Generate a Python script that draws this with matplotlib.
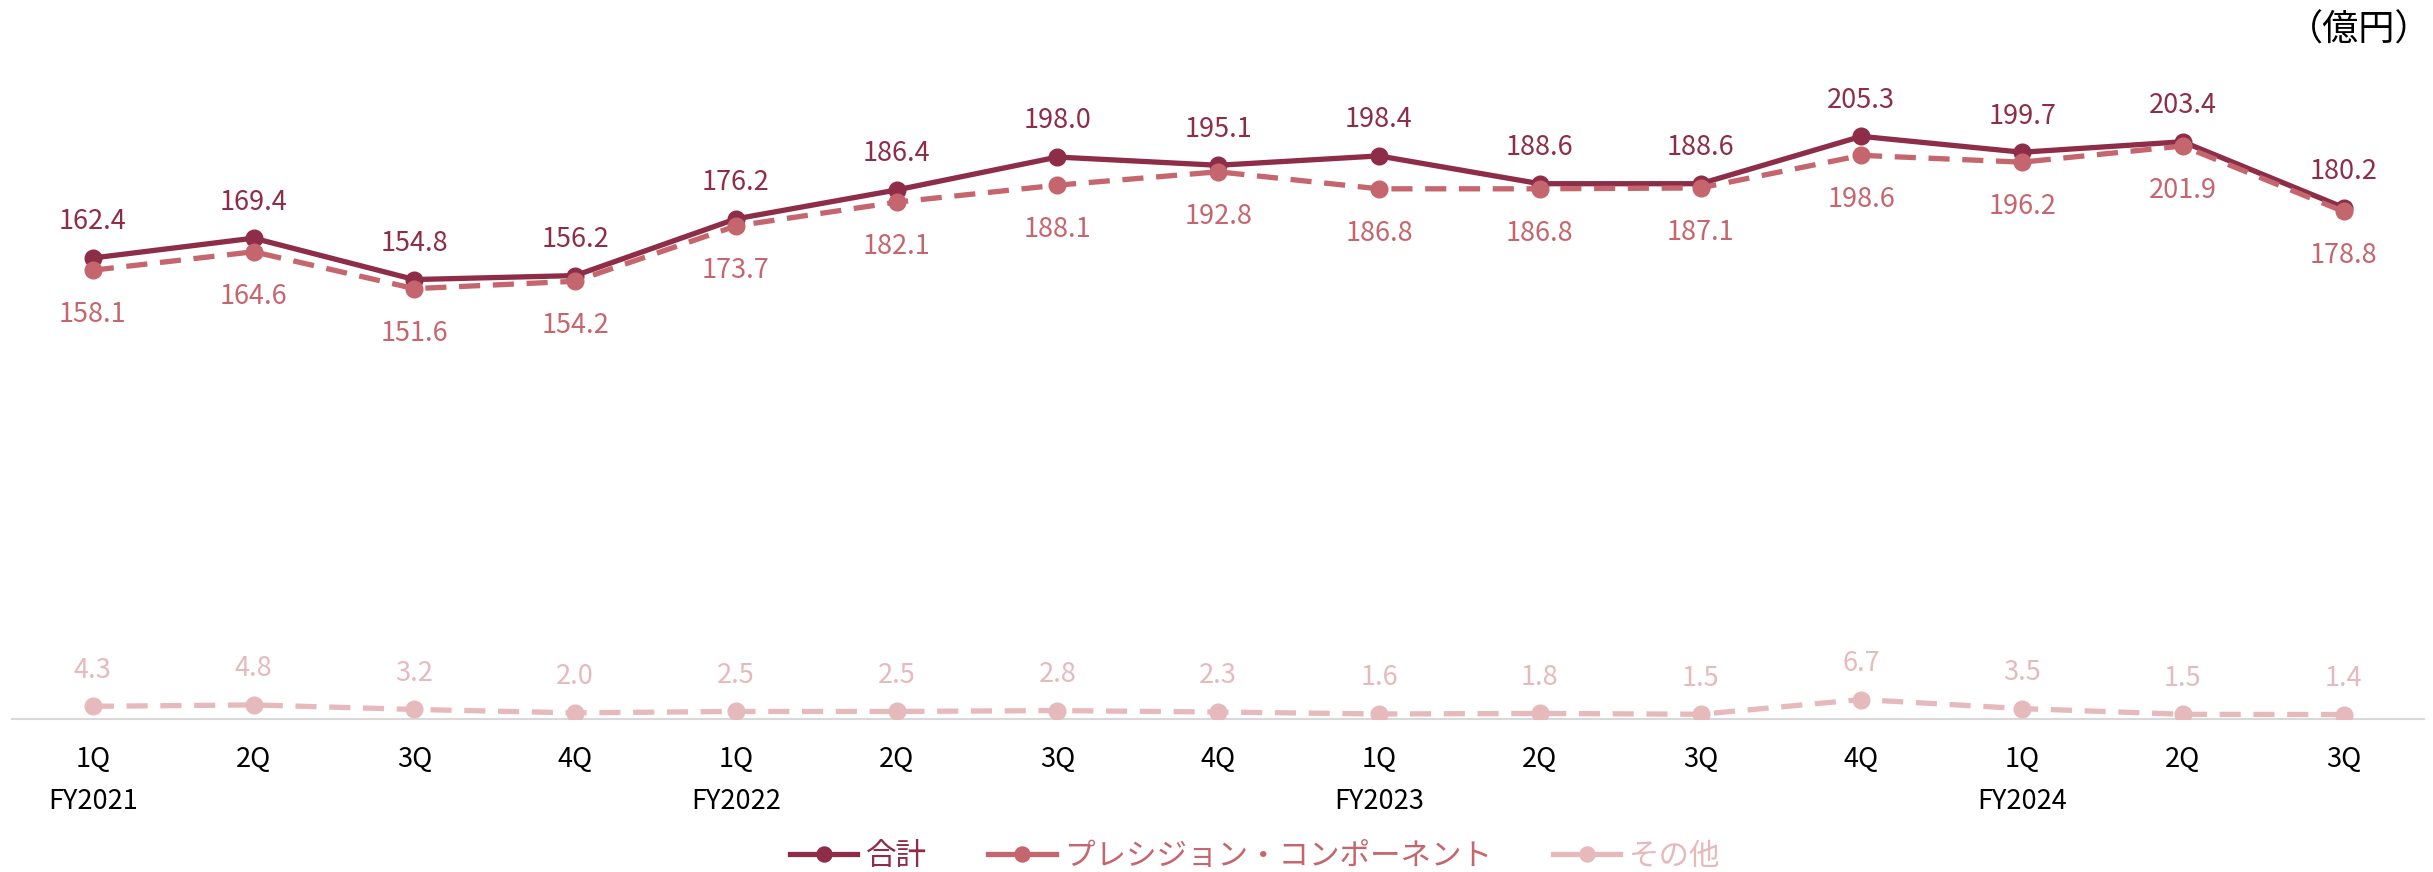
import matplotlib
matplotlib.use("Agg")
import matplotlib.pyplot as plt

plt.rcParams['font.family'] = ['Noto Sans CJK JP', 'DejaVu Sans']

quarters = ["1Q", "2Q", "3Q", "4Q"] * 3 + ["1Q", "2Q", "3Q"]
years = {0: "FY2021", 4: "FY2022", 8: "FY2023", 12: "FY2024"}
total = [162.4, 169.4, 154.8, 156.2, 176.2, 186.4, 198.0, 195.1, 198.4, 188.6, 188.6, 205.3, 199.7, 203.4, 180.2]
precision = [158.1, 164.6, 151.6, 154.2, 173.7, 182.1, 188.1, 192.8, 186.8, 186.8, 187.1, 198.6, 196.2, 201.9, 178.8]
other = [4.3, 4.8, 3.2, 2.0, 2.5, 2.5, 2.8, 2.3, 1.6, 1.8, 1.5, 6.7, 3.5, 1.5, 1.4]

c_total = "#8E2D47"
c_prec = "#C5656D"
c_other = "#E6B9BC"

fig = plt.figure(figsize=(24.33, 8.72), dpi=100)
ax = fig.add_axes([0.0051, 0.176, 0.9912, 0.813])
x = list(range(len(total)))

ax.plot(x, total, color=c_total, lw=3.8, marker="o", ms=12, label="合計", zorder=3)
ax.plot(x, precision, color=c_prec, lw=3.8, ls=(0, (4, 2.4)), marker="o", ms=12,
        label="プレシジョン・コンポーネント", zorder=4)
ax.plot(x, other, color=c_other, lw=3.8, ls=(0, (4, 2.4)), marker="o", ms=12,
        label="その他", zorder=4)

for i in x:
    ax.annotate(f"{total[i]:.1f}", (i, total[i]), xytext=(0, 26), textcoords="offset points",
                ha="center", va="center", fontsize=19.5, color=c_total)
    ax.annotate(f"{precision[i]:.1f}", (i, precision[i]), xytext=(0, -32), textcoords="offset points",
                ha="center", va="center", fontsize=19.5, color=c_prec)
    ax.annotate(f"{other[i]:.1f}", (i, other[i]), xytext=(0, 26), textcoords="offset points",
                ha="center", va="center", fontsize=19.5, color=c_other)

ax.set_xlim(-0.5, len(total) - 0.5)
ax.set_ylim(0, 250)
for s in ["top", "right", "left"]:
    ax.spines[s].set_visible(False)
ax.spines["bottom"].set_color("#D9D9D9")
ax.spines["bottom"].set_linewidth(1.5)
ax.set_yticks([])
ax.set_xticks(x)
labels = [q + ("\n" + years[i] if i in years else "") for i, q in enumerate(quarters)]
ax.set_xticklabels(labels, fontsize=19.5, color="black", linespacing=1.7, va="top")
ax.tick_params(axis="x", length=0, pad=20)

fig.text(0.9995, 0.965, "（億円）", ha="right", va="center", fontsize=26, color="black")

leg = fig.legend(loc="center", bbox_to_anchor=(0.516, 0.018), ncol=3, frameon=False,
                 fontsize=22, handlelength=2.2, columnspacing=2.0, handletextpad=0.3,
                 markerscale=0.9)
for t, c in zip(leg.get_texts(), [c_total, c_prec, c_other]):
    t.set_color(c)
for h in leg.get_lines():
    h.set_linestyle("-")

fig.savefig("out.png", dpi=100)
